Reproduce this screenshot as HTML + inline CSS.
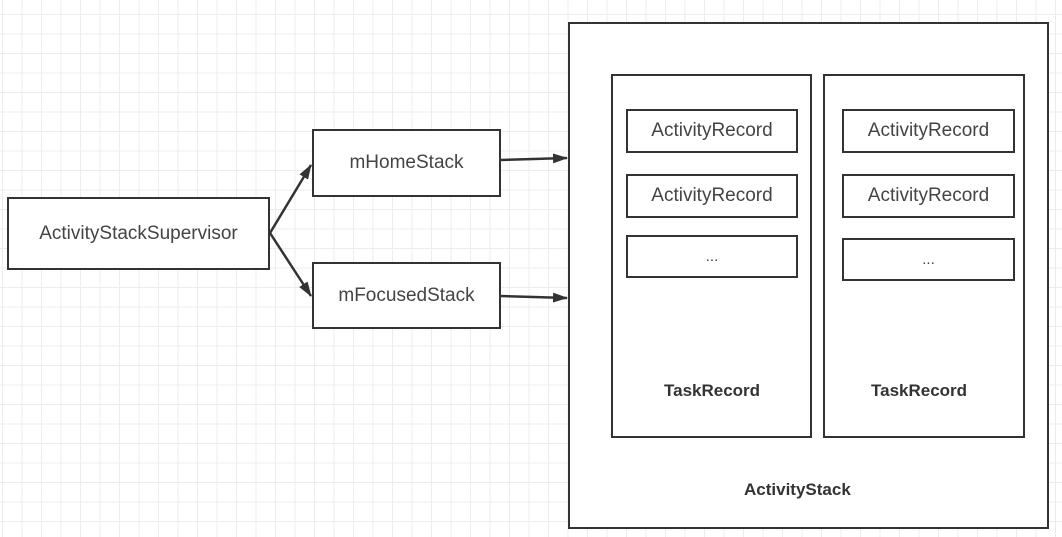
<!DOCTYPE html>
<html><head><style>
body{margin:0;width:1062px;height:537px;overflow:hidden;background:#fff;
background-image:linear-gradient(#ececec 1px,transparent 1px),linear-gradient(90deg,#ececec 1px,transparent 1px);
background-size:19.5px 19.5px;background-position:2px 14px;font-family:"Liberation Sans",sans-serif;position:relative}
.b{position:absolute;border:2px solid #333;background:#fff;box-sizing:border-box;display:flex;align-items:center;justify-content:center;color:#444;font-size:19px}
.t{position:absolute;font-weight:bold;color:#333;font-size:17px}
</style></head><body>
<div class="b" style="left:7px;top:197px;width:263px;height:73px">ActivityStackSupervisor</div>
<div class="b" style="left:312px;top:129px;width:189px;height:68px">mHomeStack</div>
<div class="b" style="left:312px;top:262px;width:189px;height:67px">mFocusedStack</div>
<div class="b" style="left:568px;top:22px;width:481px;height:507px"></div>
<div class="b" style="left:611px;top:74px;width:201px;height:364px"></div>
<div class="b" style="left:823px;top:74px;width:202px;height:364px"></div>
<div class="b" style="left:626px;top:109px;width:172px;height:44px">ActivityRecord</div>
<div class="b" style="left:626px;top:174px;width:172px;height:44px">ActivityRecord</div>
<div class="b" style="left:626px;top:235px;width:172px;height:43px;font-size:15px">...</div>
<div class="b" style="left:842px;top:109px;width:173px;height:44px">ActivityRecord</div>
<div class="b" style="left:842px;top:174px;width:173px;height:44px">ActivityRecord</div>
<div class="b" style="left:842px;top:238px;width:173px;height:43px;font-size:15px">...</div>
<div class="t" style="left:664px;top:381px">TaskRecord</div>
<div class="t" style="left:871px;top:381px">TaskRecord</div>
<div class="t" style="left:744px;top:480px">ActivityStack</div>
<svg width="1062" height="537" style="position:absolute;left:0;top:0">
<defs><marker id="a" markerWidth="15" markerHeight="10" refX="14" refY="5" orient="auto" markerUnits="userSpaceOnUse"><path d="M0,0L15,5L0,10z" fill="#333"/></marker></defs>
<g stroke="#333" stroke-width="2.5" fill="none">
<line x1="270" y1="233" x2="311" y2="165" marker-end="url(#a)"/>
<line x1="270" y1="233" x2="311" y2="296" marker-end="url(#a)"/>
<line x1="501" y1="160" x2="567" y2="158" marker-end="url(#a)"/>
<line x1="501" y1="296" x2="567" y2="298" marker-end="url(#a)"/>
</g></svg>
</body></html>
